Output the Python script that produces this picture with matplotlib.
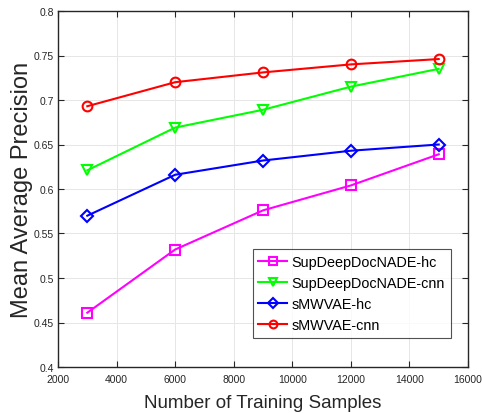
import matplotlib
matplotlib.use("Agg")
import matplotlib.pyplot as plt

samples = [3000, 6000, 9000, 12000, 15000]
sdd_hc = [0.461, 0.532, 0.576, 0.604, 0.639]
sdd_cnn = [0.621, 0.669, 0.689, 0.715, 0.735]
smw_hc = [0.570, 0.616, 0.632, 0.643, 0.650]
smw_cnn = [0.693, 0.720, 0.731, 0.740, 0.746]
series_names = ["SupDeepDocNADE-hc", "SupDeepDocNADE-cnn", "sMWVAE-hc", "sMWVAE-cnn"]
x_ticks = [2000, 4000, 6000, 8000, 10000, 12000, 14000, 16000]
y_ticks = [0.4, 0.45, 0.5, 0.55, 0.6, 0.65, 0.7, 0.75, 0.8]

plt.rcParams["font.family"] = ["Liberation Sans", "DejaVu Sans"]

fig = plt.figure(figsize=(4.82, 4.14), dpi=100)
ax = fig.add_axes([58 / 482, 1 - 368 / 414, 410 / 482, 356 / 414])

styles = [
    (sdd_hc, "#ff00ff", "s", 6.5),
    (sdd_cnn, "#00ff00", "v", 7.5),
    (smw_hc, "#0000ff", "D", 6.0),
    (smw_cnn, "#ff0000", "o", 7.0),
]
for (vals, col, mk, ms), name in zip(styles, series_names):
    ax.plot(samples, vals, color=col, marker=mk, markersize=ms,
            markerfacecolor="none", markeredgecolor=col, markeredgewidth=1.5,
            linewidth=1.5, label=name)

ax.set_xlim(2000, 16000)
ax.set_ylim(0.4, 0.8)
ax.set_xticks(x_ticks)
ax.set_yticks(y_ticks)
ax.set_xticklabels([str(t) for t in x_ticks])
ax.set_yticklabels(["0.4", "0.45", "0.5", "0.55", "0.6", "0.65", "0.7", "0.75", "0.8"])
ax.tick_params(direction="in", top=True, right=True, labelsize=7.5,
               colors="#262626", length=4, width=0.8)
ax.tick_params(axis="x", pad=5)
ax.tick_params(axis="y", pad=3)
ax.grid(True, color="#e6e6e6", linewidth=0.7)
ax.set_axisbelow(True)
for s in ax.spines.values():
    s.set_color("#262626")
    s.set_linewidth(1.0)

ax.set_xlabel("Number of Training Samples", fontsize=13.5, color="#262626", labelpad=7)
ax.set_ylabel("Mean Average Precision", fontsize=17, color="#262626")
ax.yaxis.set_label_coords(-0.062, 0.5)

leg = ax.legend(loc="lower right", bbox_to_anchor=(0.958, 0.081), borderaxespad=0,
                fontsize=10.4, frameon=True, fancybox=False, borderpad=0.4,
                labelspacing=0.5, handlelength=2.0, handletextpad=0.3, markerscale=0.8)
leg.get_frame().set_edgecolor("#262626")
leg.get_frame().set_linewidth(0.8)

fig.savefig("out.png", dpi=100)
